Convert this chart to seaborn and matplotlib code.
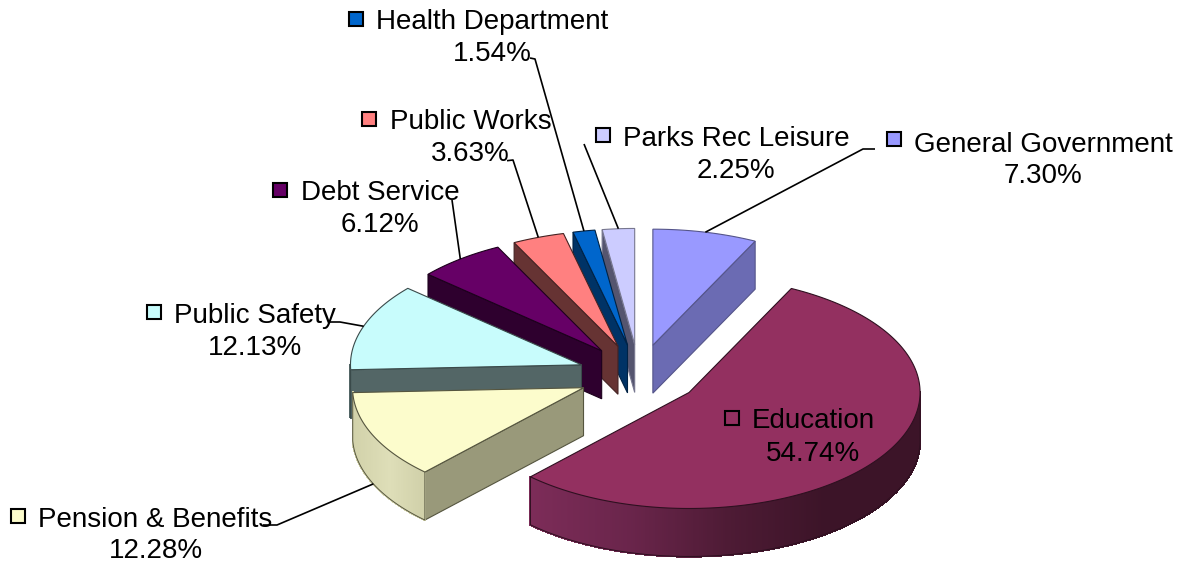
import numpy as np
import matplotlib
matplotlib.use("Agg")
import matplotlib.pyplot as plt
from matplotlib.collections import PolyCollection
from matplotlib.patches import Polygon, Rectangle
import seaborn as sns

# ---- data (clockwise from 12 o'clock) ----
categories = ["General Government", "Education", "Pension & Benefits", "Public Safety",
              "Debt Service", "Public Works", "Health Department", "Parks Rec Leisure"]
shares = [7.30, 54.74, 12.28, 12.13, 6.12, 3.63, 1.54, 2.25]
pct_labels = ["7.30%", "54.74%", "12.28%", "12.13%", "6.12%", "3.63%", "1.54%", "2.25%"]

# ---- styles ----
top_colors = ["#9999ff", "#933060", "#fcfccc", "#c8fcfc", "#660066", "#ff8080", "#0066cc", "#ccccff"]
face_colors = ["#6b6bb3", "#5c1f3d", "#99997a", "#536666", "#2e002e", "#663333", "#003366", "#55556f"]
wall_stops = [["#6b6bb3"] * 2,
              ["#7c2c58", "#6a254b", "#4e1b35", "#3c1428", "#3c1428"],
              ["#d2d2aa", "#dedeb8", "#cfcfa8"],
              ["#536666"] * 2, ["#2e002e"] * 2, ["#663333"] * 2, ["#003366"] * 2, ["#55556f"] * 2]
edge_colors = ["#55558a", "#2e1020", "#55553f", "#3a4a4a", "#1c001c", "#442222", "#002244", "#77778f"]

# ---- layout, in figure pixels ----
CENTER = (639.0, 375.0)
RX, RY, DEPTH, EXPLODE = 231.0, 116.0, 48.0, 0.264
name_xy = [(914, 152), (752, 428), (38, 527), (174, 323), (301, 200), (390, 129), (376, 29), (623, 146)]
pct_xy = [(1043, 183), (813, 461), (156, 558), (255, 355), (380, 232), (470, 161), (492, 61), (736, 178)]
key_xy = [(887, 132), (725, 411), (11, 509), (147, 305), (273, 183), (362, 112), (349, 12), (596, 128)]
leader_from = [[(875, 149), (863, 149)], None, [(263, 525), (277, 525)], [(328, 322), (340, 322)],
               [(452, 200)], [(507, 160.7), (513, 160)], [(530, 58), (535, 59)], [(584, 144)]]

sns.set_theme(style="white")
plt.rcParams["font.family"] = ["Liberation Sans", "DejaVu Sans"]
fig = plt.figure(figsize=(11.91, 5.66), dpi=100)
ax = fig.add_axes([0, 0, 1, 1])
ax.set_xlim(0, 1191)
ax.set_ylim(566, 0)
ax.axis("off")

angles = np.cumsum([0.0] + [s / sum(shares) * 360.0 for s in shares])


def pt(apex, deg, dz=0.0):
    t = np.radians(deg)
    return (apex[0] + RX * np.sin(t), apex[1] - RY * np.cos(t) + dz)


slices = []
for i in range(len(shares)):
    a, b = angles[i], angles[i + 1]
    m = np.radians((a + b) / 2)
    apex = (CENTER[0] + EXPLODE * RX * np.sin(m), CENTER[1] - EXPLODE * RY * np.cos(m))
    slices.append((i, a, b, (a + b) / 2, apex))

z = 2
for i, a, b, mid, apex in sorted(slices, key=lambda s: -np.cos(np.radians(s[3]))):
    ec = edge_colors[i]
    # cut faces that look toward the viewer
    for edge, side in ((a, -90), (b, 90)):
        if np.cos(np.radians(edge + side)) < -1e-6:
            p = pt(apex, edge)
            q = (apex[0], apex[1] + DEPTH)
            r = (p[0], p[1] + DEPTH)
            ax.add_patch(Polygon([apex, p, r, q], closed=True, fc=face_colors[i], ec=ec, lw=0.8, zorder=z))
            z += 1
    # outer wall: only the front half of the rim
    lo, hi = max(a, 90.0), min(b, 270.0)
    if hi > lo:
        th = np.linspace(lo, hi, int((hi - lo) * 2) + 2)
        xs = [pt(apex, d)[0] for d in th]
        xmin, xmax = min(xs), max(xs)
        pal = sns.blend_palette(wall_stops[i], 256)
        polys, cols = [], []
        for d0, d1 in zip(th[:-1], th[1:]):
            p0, p1 = pt(apex, d0), pt(apex, d1)
            polys.append([p0, p1, (p1[0], p1[1] + DEPTH), (p0[0], p0[1] + DEPTH)])
            f = ((p0[0] + p1[0]) / 2 - xmin) / max(xmax - xmin, 1e-6)
            cols.append(pal[int(np.clip(f, 0, 1) * 255)])
        ax.add_collection(PolyCollection(polys, facecolors=cols, edgecolors=cols, linewidths=1.0,
                                         antialiaseds=False, zorder=z))
        z += 1
        outline = [pt(apex, d, DEPTH) for d in th]
        ax.plot(*zip(*([pt(apex, th[-1])] + outline[::-1] + [pt(apex, th[0])])), color=ec, lw=0.7, zorder=z)
        z += 1
    # top surface
    th = np.linspace(a, b, max(int(b - a) * 2, 6))
    ax.add_patch(Polygon([apex] + [pt(apex, d) for d in th], closed=True, fc=top_colors[i], ec=ec, lw=0.8, zorder=z))
    z += 1

# labels, keys and leader lines
for i, a, b, mid, apex in slices:
    ax.text(*name_xy[i], categories[i], fontsize=20, color="black", ha="left", va="baseline", zorder=z + 2)
    ax.text(*pct_xy[i], pct_labels[i], fontsize=20, color="black", ha="center", va="baseline", zorder=z + 2)
    ax.add_patch(Rectangle(key_xy[i], 14, 14, fc=top_colors[i], ec="black", lw=1.5, zorder=z + 2))
    if leader_from[i] is not None:
        front = 90 < mid % 360 < 270
        end = pt(apex, mid, DEPTH if front else 0.0)
        ax.plot(*zip(*(leader_from[i] + [end])), color="black", lw=1.2, zorder=z + 1, solid_capstyle="butt")

fig.savefig("out.png", dpi=100, facecolor="white")
